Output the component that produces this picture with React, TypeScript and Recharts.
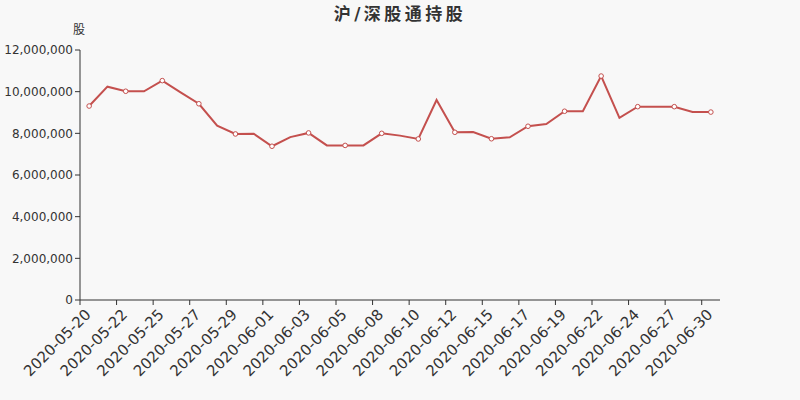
import React from 'react';
import { LineChart, Line, XAxis, YAxis } from 'recharts';

const dates = [
  '2020-05-20', '2020-05-21', '2020-05-22', '2020-05-23', '2020-05-25', '2020-05-26', '2020-05-27',
  '2020-05-28', '2020-05-29', '2020-05-30', '2020-06-01', '2020-06-02', '2020-06-03', '2020-06-04',
  '2020-06-05', '2020-06-06', '2020-06-08', '2020-06-09', '2020-06-10', '2020-06-11', '2020-06-12',
  '2020-06-13', '2020-06-15', '2020-06-16', '2020-06-17', '2020-06-18', '2020-06-19', '2020-06-20',
  '2020-06-22', '2020-06-23', '2020-06-24', '2020-06-26', '2020-06-27', '2020-06-29', '2020-06-30',
];

const holdings = [
  9310000, 10240000, 10020000, 10020000, 10530000, 9970000, 9420000,
  8370000, 7970000, 7980000, 7380000, 7820000, 8020000, 7420000,
  7420000, 7420000, 8000000, 7890000, 7730000, 9600000, 8050000,
  8060000, 7740000, 7810000, 8340000, 8450000, 9060000, 9060000,
  10750000, 8740000, 9280000, 9280000, 9280000, 9020000, 9020000,
];

const yTicks = [0, 2000000, 4000000, 6000000, 8000000, 10000000, 12000000];

const data = dates.map((d, i) => ({ date: d, value: holdings[i] }));

const LINE = '#c4504e';
const TEXT = '#333';
const FONT = '"DejaVu Sans", "Noto Sans CJK SC", sans-serif';
const PLOT_W = 640;
const band = PLOT_W / dates.length;

const DateTick = (props: any) => {
  const { x, y, payload } = props;
  const tx = x - band / 2;
  return (
    <g>
      <line x1={tx} y1={y - 8} x2={tx} y2={y - 3} stroke={TEXT} strokeWidth={1} />
      <text
        transform={`translate(${x - 1}, ${y + 4}) rotate(-45)`}
        textAnchor="end"
        dominantBaseline="central"
        fontSize={15}
        fill={TEXT}
        fontFamily={FONT}
      >
        {payload.value}
      </text>
    </g>
  );
};

const Dot = (props: any) => {
  const { cx, cy, index } = props;
  if (index % 2 !== 0) return <g key={`d-${index}`} />;
  return <circle key={`d-${index}`} cx={cx} cy={cy} r={2.3} fill="#fff" stroke={LINE} strokeWidth={1} />;
};

export default function App() {
  return (
    <div style={{ position: 'absolute', left: 0, top: 0, width: 800, height: 400, background: '#f8f8f8', fontFamily: FONT }}>
      <div style={{ position: 'absolute', left: 0, width: 800, top: 0, textAlign: 'center', fontSize: 17, fontWeight: 'bold', color: TEXT, letterSpacing: 3.5 }}>
        沪/深股通持股
      </div>
      <div style={{ position: 'absolute', left: 73, top: 20, fontSize: 12, color: TEXT }}>股</div>
      <LineChart width={800} height={400} data={data} margin={{ top: 50, right: 80, bottom: 0, left: 8 }}>
        <XAxis
          dataKey="date"
          scale="band"
          interval={1}
          height={100}
          tickLine={false}
          axisLine={{ stroke: TEXT }}
          tick={<DateTick />}
        />
        <YAxis
          width={72}
          domain={[0, 12000000]}
          ticks={yTicks}
          interval={0}
          tickSize={5}
          tickLine={{ stroke: TEXT }}
          axisLine={{ stroke: TEXT }}
          tick={{ fontSize: 12, fill: TEXT, fontFamily: FONT }}
          tickFormatter={(v: number) => v.toLocaleString('en-US')}
        />
        <Line
          type="linear"
          dataKey="value"
          stroke={LINE}
          strokeWidth={2}
          dot={<Dot />}
          activeDot={false}
          isAnimationActive={false}
        />
      </LineChart>
    </div>
  );
}
